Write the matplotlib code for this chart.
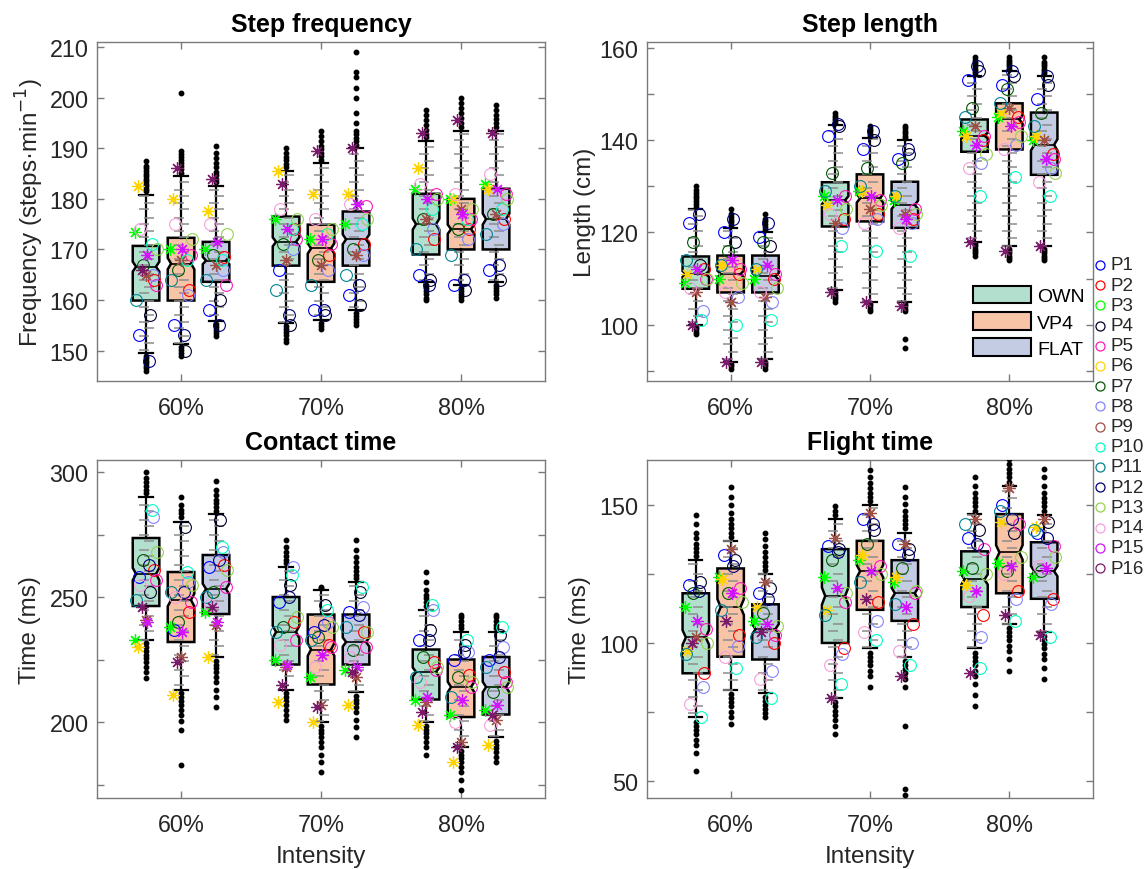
import numpy as np
import matplotlib
matplotlib.use("Agg")
import matplotlib.pyplot as plt
from matplotlib.patches import Polygon, Patch
from matplotlib.lines import Line2D

plt.rcParams['font.family'] = ['Liberation Sans', 'DejaVu Sans']

# -----------------------------
# DATA
# -----------------------------
intensities = ['60%', '70%', '80%']
conditions = ['OWN', 'VP4', 'FLAT']
cond_colors = ['#b3dfcf', '#f8c4a7', '#c4cce4']
participants = ['P%d' % i for i in range(1, 17)]
part_colors = [(0, 0, 1), (1, 0, 0), (0, 1, 0), (0, 0, 0.1724),
               (1, 0.1034, 0.7241), (1, 0.8276, 0), (0, 0.3448, 0),
               (0.5172, 0.5172, 1), (0.6207, 0.3103, 0.2759), (0, 1, 0.7586),
               (0, 0.5172, 0.5862), (0, 0, 0.4828), (0.5862, 0.8276, 0.3103),
               (0.9655, 0.6207, 0.8621), (0.8276, 0.0690, 1), (0.4828, 0.1034, 0.4138)]
star_parts = [2, 5, 8, 14, 15]
n_steps = 300

# box order: 60 OWN, 60 VP4, 60 FLAT, 70 OWN, ... 80 FLAT
# --- step frequency (steps/min)
freq_q1 = [159.9, 159.9, 163.6, 166.8, 163.6, 166.8, 169.0, 170.0, 170.0]
freq_med = [166.6, 167.2, 167.8, 171.5, 170.2, 172.0, 175.0, 174.0, 176.0]
freq_q3 = [170.7, 172.3, 171.5, 176.5, 174.9, 177.5, 181.0, 180.0, 182.0]
freq_lo = [149.5, 151.4, 155.8, 155.5, 156.0, 158.0, 163.5, 163.0, 163.5]
freq_hi = [180.8, 184.6, 182.6, 185.5, 187.0, 190.0, 191.5, 193.5, 193.5]
freq_out_hi = [
    [181.5, 182, 182.5, 183, 183.5, 184, 184.5, 185, 185.5, 186, 186.5, 187.5],
    [185.2, 185.8, 186.4, 187, 187.6, 188.2, 188.8, 189.5, 201],
    [183.3, 184, 184.7, 185.4, 186.2, 187, 188, 189, 190.5],
    [186.2, 186.9, 187.6, 188.3, 189, 190],
    [187.7, 188.4, 189.1, 189.8, 190.5, 191.5, 192.5, 193.5],
    [190.7, 191.4, 192.1, 192.8, 193.5, 195, 197, 200, 202, 204, 205, 209],
    [192.2, 192.9, 193.6, 194.5, 195.5, 196.5, 197.5],
    [194.2, 195, 196, 197, 198, 199, 200],
    [194.2, 195, 195.8, 196.6, 197.5, 198.5]]
freq_out_lo = [
    [149, 148.5, 148, 147.5, 147, 146.5, 146],
    [150.8, 150.2, 149.6, 149],
    [155.2, 154.6, 154, 153.4, 152.8],
    [154.8, 154.2, 153.6, 153, 152.4, 151.8],
    [155.4, 154.8, 154.2],
    [157.4, 156.8, 156.2, 155.6, 155],
    [162.9, 162.3, 161.7, 161.1, 160.5, 160],
    [162.4, 161.8, 161.2, 160.6, 160],
    [162.9, 162.3, 161.7, 161.1, 160.5]]
freq_parts = [
    [153, 164, 173.5, 157, 163, 182.5, 167, 165, 165, 171, 160, 148, 170, 174, 169, 166],
    [155, 162, 170, 150, 169, 180, 166, 161, 168, 168, 164, 153, 172, 175, 170, 186],
    [158, 168.5, 170, 160, 163, 177.5, 169, 166, 167, 168, 164, 155, 173, 175, 171.5, 184],
    [166, 174, 176, 155, 172, 185.5, 171, 170, 168, 174, 162, 157, 176, 178, 174, 183],
    [158, 169, 172, 157, 171, 181, 168, 166, 167, 173, 163, 158, 174, 176, 172, 189.5],
    [161, 171, 175, 159, 178.5, 181, 170, 169, 169, 175, 165, 163, 176, 179, 179, 190],
    [165, 172, 182, 164, 181, 186, 176, 174, 176, 178, 170, 163, 180, 183, 180, 193],
    [163, 174, 180, 162, 176, 180, 174, 172, 178, 176, 169, 164, 178, 181, 177, 195.5],
    [166, 176, 183, 164, 181, 182, 177, 175, 177, 178, 173, 167, 180, 185, 182, 193]]
# recorded (quantised) step-frequency levels
freq_levels = [150.2, 151.6, 152.9, 154.5, 155.7, 157.1, 158.6, 159.8, 161.3, 162.5,
               164.0, 165.2, 166.9, 168.1, 169.5, 170.8, 172.4, 173.6, 175.0, 176.3,
               177.9, 179.1, 180.6, 181.8, 183.4, 184.7, 186.1, 187.4, 188.9, 190.2,
               191.6, 192.9]

# --- step length (cm)
len_q1 = [107.8, 107.0, 107.0, 121.3, 122.4, 121.0, 137.5, 138.0, 132.5]
len_med = [111.0, 111.0, 110.5, 127.0, 127.4, 126.0, 141.0, 144.5, 139.0]
len_q3 = [114.8, 115.0, 115.0, 130.9, 132.6, 131.0, 144.5, 148.0, 146.0]
len_lo = [100.0, 92.0, 92.5, 107.5, 105.0, 105.0, 118.0, 117.0, 117.0]
len_hi = [125.0, 121.0, 120.0, 143.3, 140.4, 140.0, 154.0, 155.0, 154.0]
len_out_hi = [
    [125.6, 126.2, 126.8, 127.4, 128, 128.6, 129.2, 130],
    [121.6, 122.2, 122.8, 123.4, 124, 125],
    [120.6, 121.2, 121.8, 122.4, 123, 124],
    [143.8, 144.3, 144.8, 145.3, 146],
    [140.9, 141.4, 141.9, 142.4, 143],
    [140.5, 141, 141.5, 142, 142.6, 143],
    [154.5, 155, 155.5, 156, 156.5, 157, 157.5, 158],
    [155.5, 156, 156.5, 157, 157.5, 158],
    [154.5, 155, 155.5, 156, 156.5, 157, 158]]
len_out_lo = [
    [99.5, 99, 98.5, 98],
    [91.5, 91, 90.5],
    [92, 91.5, 91, 90.5],
    [107, 106.5, 106, 105.5, 105],
    [104.5, 104, 103.5, 103],
    [104.5, 104, 103.5, 103, 97, 95],
    [117.5, 117, 116.5, 116, 115.5, 115],
    [116.5, 116, 115.5, 115, 114.5, 114],
    [116.5, 116, 115.5, 115, 114.5, 114]]
len_parts = [
    [122, 112, 109, 113, 110, 111, 118, 103, 107, 101, 114, 124, 110, 108, 112, 100],
    [120, 111, 110, 118, 112, 113, 116, 106, 105, 100, 113, 123, 109, 107, 114, 92],
    [119, 110, 110, 117, 111, 112, 118, 105, 106, 101, 112, 122, 108, 107, 113, 92],
    [141, 123, 128, 143, 128, 126, 133, 121, 122, 117, 129, 143.5, 125, 124, 127, 107],
    [138, 124, 129, 140, 127, 129, 134, 123, 125, 116, 130, 142, 126, 122, 128, 105],
    [136, 123, 127, 137, 125, 128, 135, 122, 124, 115, 128, 138, 124, 121, 123, 104],
    [153, 140, 142, 155, 141, 141, 147, 135, 143, 128, 145, 156, 137, 134, 139, 118],
    [152, 145, 145, 154, 144, 146, 151, 139, 147, 132, 148, 155, 141, 138, 143, 116],
    [149, 137, 140, 152, 136, 141, 146, 134, 140, 128, 143, 154, 133, 131, 136, 117]]
len_levels = [92.6, 94.1, 95.9, 97.2, 98.8, 100.5, 101.9, 103.4, 105.1, 106.6, 108.0,
              109.7, 111.2, 112.6, 114.3, 115.8, 117.1, 118.9, 120.4, 121.8, 123.5,
              124.9, 126.3, 128.0, 129.6, 131.0, 132.7, 134.1, 135.6, 137.3, 138.7,
              140.2, 141.9, 143.4, 144.8, 146.5, 147.9, 149.6, 151.0, 152.5, 154.1]

# --- contact time (ms)
ct_q1 = [246.4, 232.0, 243.2, 223.0, 215.0, 223.0, 209.0, 202.0, 203.0]
ct_med = [259.2, 248.8, 253.2, 236.0, 229.0, 232.0, 220.0, 214.0, 214.0]
ct_q3 = [273.6, 260.0, 266.8, 250.0, 243.0, 243.0, 229.0, 225.0, 226.0]
ct_lo = [233.0, 213.0, 226.0, 213.0, 200.0, 212.0, 200.0, 190.0, 194.0]
ct_hi = [290.0, 280.0, 283.2, 262.0, 253.0, 256.0, 245.0, 236.0, 236.0]
ct_out_hi = [
    [291.5, 293, 294.5, 296, 297.5, 300],
    [282, 283.5, 285, 287, 290],
    [284.5, 286, 287.5, 289, 291, 293, 296.5],
    [263.5, 265, 266.5, 268, 270, 273],
    [253.5, 254],
    [257.5, 259, 260.5, 262, 264, 266, 269, 273],
    [246.5, 248, 249.5, 251, 253, 256, 260],
    [237.5, 239, 240.5, 242, 243],
    [237.5, 239, 240.5, 242, 243]]
ct_out_lo = [
    [231.5, 230, 228.5, 227, 225.5, 224, 222, 220, 217.5],
    [211.5, 210, 208.5, 207, 205, 203, 200.5, 197, 183],
    [224.5, 223, 221.5, 220, 218, 216, 213, 210, 206],
    [211.5, 210, 208.5, 207, 205, 203, 201],
    [198.5, 197, 195.5, 194, 192, 190, 187, 184, 180],
    [210.5, 209, 207.5, 206, 204, 201, 198, 194],
    [198.5, 197, 195.5, 194, 192, 190, 187],
    [188.5, 187, 185.5, 184, 182, 180, 177, 173],
    [192.5, 191, 189.5, 188, 186, 184]]
ct_parts = [
    [258, 261, 233, 252, 257, 230, 265, 282, 241, 285, 249, 263, 268, 255, 240, 246],
    [237, 244, 238, 278, 248, 211, 240, 256, 226, 260, 252, 252, 255, 250, 236, 224],
    [262, 263, 244, 281, 254, 226, 252, 268, 239, 270, 250, 265, 261, 247, 240, 246],
    [248, 240, 225, 255, 233, 208, 238, 262, 222, 259, 236, 250, 242, 231, 223, 215],
    [236, 231, 218, 247, 230, 200, 234, 240, 207, 245, 233, 239, 238, 222, 227, 206],
    [244, 236, 221, 252, 230, 207, 229, 246, 218, 254, 238, 243, 236, 226, 222, 220],
    [233, 224, 209, 237, 221, 199, 226, 245, 208, 247, 218, 233, 222, 216, 210, 204],
    [225, 219, 203, 231, 214, 184, 218, 228, 192, 233, 210, 228, 216, 200, 209, 190],
    [225, 220, 205, 235, 216, 191, 212, 230, 201, 238, 222, 226, 214, 199, 207, 203]]
ct_levels = [176, 179, 182.5, 185, 188.5, 191, 194.5, 197, 200.5, 203, 206.5, 209,
             212.5, 215, 218.5, 221, 224.5, 227, 230.5, 233, 236.5, 239, 242.5, 245,
             248.5, 251, 254.5, 257, 260.5, 263, 266.5, 269, 272.5, 275, 278.5, 281,
             284.5, 287, 290.5]

# --- flight time (ms)
ft_q1 = [89.0, 95.0, 94.0, 100.0, 112.0, 108.0, 113.0, 118.0, 116.0]
ft_med = [102.0, 113.0, 105.0, 117.0, 126.0, 118.0, 123.0, 132.8, 126.0]
ft_q3 = [118.0, 127.0, 114.0, 134.0, 137.0, 130.0, 133.2, 146.7, 136.5]
ft_lo = [73.0, 83.0, 82.0, 80.0, 98.0, 95.0, 98.0, 107.0, 104.0]
ft_hi = [130.0, 137.0, 125.0, 145.0, 150.0, 140.0, 146.7, 157.0, 146.4]
ft_out_hi = [
    [131.5, 133, 134.5, 136, 138, 140, 143, 146.5],
    [138.5, 140, 141.5, 143, 145, 147, 150, 153, 156.5],
    [126.5, 128, 129.5, 131, 133, 135, 137.5, 140],
    [146.5, 148, 149.5],
    [151.5, 153, 154.5, 156, 158, 160, 162.5],
    [141.5, 143, 144.5, 146, 148, 150.5, 153, 156.5],
    [148, 149.5, 151, 152.5, 154.5, 157, 160],
    [158.5, 160, 161.5, 163, 165, 166.5],
    [148, 149.5, 151, 152.5, 154.5, 157, 160, 163]]
ft_out_lo = [
    [71.5, 70, 68.5, 67, 65, 63, 60, 53.5],
    [81.5, 80, 78.5, 77, 75, 73, 70.5],
    [80.5, 79, 77.5, 76, 74.5, 73],
    [78.5, 77, 75.5, 74, 72, 70, 67],
    [96.5, 95, 93.5, 92, 90, 88, 84],
    [93.5, 92, 90.5, 89, 87, 84, 70, 47, 45],
    [96.5, 95, 93.5, 92, 90, 88, 85, 81, 77],
    [105.5, 104, 102.5, 101, 99, 97, 94, 90],
    [102.5, 101, 99.5, 98, 96, 94, 91, 87]]
ft_parts = [
    [121, 89, 113, 122, 105, 97, 118, 84, 102, 73, 96, 119, 100, 78, 108, 100],
    [132, 103, 124, 130, 120, 123, 118, 99, 134, 91, 112, 128, 115, 95, 118, 108],
    [118, 100, 108, 120, 103, 113, 111, 90, 122, 80, 102, 116, 106, 87, 107, 104],
    [135, 98, 124, 134, 115, 112, 130, 96, 138, 85, 110, 133, 118, 92, 120, 80],
    [145, 115, 130, 141, 128, 132, 136, 108, 147, 101, 122, 143, 125, 104, 126, 116],
    [136, 107, 122, 134, 118, 124, 127, 100, 136, 92, 114, 132, 119, 97, 113, 88],
    [138, 110, 126, 141, 134, 121, 127, 102, 145, 91, 143, 136, 125, 117, 119, 89],
    [150, 119, 129, 140, 143, 144, 126, 116, 156, 108, 148, 145, 131, 125, 128, 110],
    [140, 116, 124, 144, 135, 142, 126, 114, 145, 102, 141, 138, 131, 128, 127, 103]]
ft_levels = [74.5, 77, 80.5, 83, 86.5, 89, 92.5, 95, 98.5, 101, 104.5, 107, 110.5,
             113, 116.5, 119, 122.5, 125, 128.5, 131, 134.5, 137, 140.5, 143, 146.5,
             149, 152.5, 155, 158.5]

# -----------------------------
# PANEL SETTINGS
# -----------------------------
panels = [
    dict(title='Step frequency', ylabel='Frequency (steps·min$^{-1}$)',
         q1=freq_q1, med=freq_med, q3=freq_q3, lo=freq_lo, hi=freq_hi,
         out_hi=freq_out_hi, out_lo=freq_out_lo, parts=freq_parts, levels=freq_levels,
         ylim=(144, 211), ticks=np.arange(150, 211, 10), labels=np.arange(150, 211, 10),
         rect=[0.0846, 0.5609, 0.3906, 0.3897], lab_x=-0.150),
    dict(title='Step length', ylabel='Length (cm)',
         q1=len_q1, med=len_med, q3=len_q3, lo=len_lo, hi=len_hi,
         out_hi=len_out_hi, out_lo=len_out_lo, parts=len_parts, levels=len_levels,
         ylim=(87.8, 161.3), ticks=np.arange(90, 161, 10), labels=np.arange(100, 161, 20),
         rect=[0.5641, 0.5609, 0.3888, 0.3897], lab_x=-0.139),
    dict(title='Contact time', ylabel='Time (ms)',
         q1=ct_q1, med=ct_med, q3=ct_q3, lo=ct_lo, hi=ct_hi,
         out_hi=ct_out_hi, out_lo=ct_out_lo, parts=ct_parts, levels=ct_levels,
         ylim=(169.6, 304.8), ticks=np.arange(175, 301, 25), labels=[200, 250, 300],
         rect=[0.0846, 0.0816, 0.3906, 0.3885], lab_x=-0.150),
    dict(title='Flight time', ylabel='Time (ms)',
         q1=ft_q1, med=ft_med, q3=ft_q3, lo=ft_lo, hi=ft_hi,
         out_hi=ft_out_hi, out_lo=ft_out_lo, parts=ft_parts, levels=ft_levels,
         ylim=(43.8, 166.3), ticks=np.arange(50, 151, 25), labels=[50, 100, 150],
         rect=[0.5641, 0.0816, 0.3888, 0.3885], lab_x=-0.150),
]

offsets = [-0.25, 0.0, 0.25]
box_w = 0.19
cap_w = 0.047
jitter = [-0.05, 0.06, -0.08, 0.03, 0.07, -0.06, -0.02, 0.05,
          0.0, 0.04, -0.07, 0.02, 0.08, -0.04, 0.01, -0.03]
spine_col = '#7a7a7a'
text_col = '#262626'


def notched_box(ax, x, q1, med, q3, color):
    hw = box_w / 2
    nw = hw * 0.75
    notch = 1.57 * (q3 - q1) / np.sqrt(n_steps)
    lo, hi = med - notch, med + notch
    verts = [(x - hw, q1), (x + hw, q1), (x + hw, lo), (x + nw, med),
             (x + hw, hi), (x + hw, q3), (x - hw, q3), (x - hw, hi),
             (x - nw, med), (x - hw, lo)]
    ax.add_patch(Polygon(verts, closed=True, facecolor=color,
                         edgecolor='black', lw=1.8, zorder=2))
    ax.plot([x - nw, x + nw], [med, med], color='black', lw=1.2, zorder=2)


fig = plt.figure(figsize=(11.47, 8.7), dpi=100)

for k, p in enumerate(panels):
    ax = fig.add_axes(p['rect'])
    for i in range(3):
        for c in range(3):
            b = i * 3 + c
            x = i + 1 + offsets[c]
            notched_box(ax, x, p['q1'][b], p['med'][b], p['q3'][b], cond_colors[c])
            # whiskers and caps
            ax.plot([x, x], [p['q3'][b], p['hi'][b]], color='black', lw=1.6, zorder=2)
            ax.plot([x, x], [p['lo'][b], p['q1'][b]], color='black', lw=1.6, zorder=2)
            for v in (p['lo'][b], p['hi'][b]):
                ax.plot([x - cap_w, x + cap_w], [v, v], color='black', lw=1.6, zorder=2)
            # individual steps at their recorded levels
            lv = [v for v in p['levels'] if p['lo'][b] <= v <= p['hi'][b]]
            lx = [x + (0.018 if n % 2 else -0.018) for n in range(len(lv))]
            ax.plot(lx, lv, ls='none', marker='_', ms=7, mew=1.1,
                    color='#8c8c8c', zorder=2.5)
            # outliers
            outs = p['out_hi'][b] + p['out_lo'][b]
            ax.plot([x] * len(outs), outs, ls='none', marker='o', ms=3.2,
                    color='black', zorder=3)
            # participant means
            for j in range(16):
                xp = x + jitter[j]
                if j in star_parts:
                    ax.plot(xp, p['parts'][b][j], marker=(8, 2, 0), ms=9,
                            mew=0.9, color=part_colors[j], ls='none', zorder=4)
                else:
                    ax.plot(xp, p['parts'][b][j], marker='o', ms=8.5, mew=0.8,
                            mfc='none', mec=part_colors[j], ls='none', zorder=4)

    ax.set_xlim(0.4, 3.6)
    ax.set_ylim(*p['ylim'])
    ax.set_xticks([1, 2, 3])
    ax.set_xticklabels(intensities)
    ax.set_yticks(p['ticks'])
    ax.set_yticklabels([str(t) if t in list(p['labels']) else '' for t in p['ticks']])
    ax.tick_params(direction='in', length=5, width=1, color=spine_col,
                   labelsize=16.8, labelcolor=text_col, top=True, right=True)
    ax.tick_params(axis='x', pad=11)
    ax.tick_params(axis='y', pad=6)
    for s in ax.spines.values():
        s.set_color(spine_col)
        s.set_linewidth(1)
    ax.set_title(p['title'], fontsize=18, fontweight='bold', pad=8)
    ax.set_ylabel(p['ylabel'], fontsize=17.5, color=text_col)
    ax.yaxis.label.set_verticalalignment('center')
    ax.yaxis.set_label_coords(p['lab_x'], 0.5)
    if k >= 2:
        ax.set_xlabel('Intensity', fontsize=17.5, color=text_col, labelpad=6)

    if k == 1:
        handles = [Patch(facecolor=cond_colors[c], edgecolor='black', lw=1.5)
                   for c in range(3)]
        ax.legend(handles, conditions, loc='upper left', bbox_to_anchor=(0.731, 0.28),
                  frameon=False, fontsize=14, handlelength=3.0, handleheight=1.0,
                  labelspacing=0.35, borderpad=0, borderaxespad=0, handletextpad=0.3)

# participant key on the right
for j, name in enumerate(participants):
    y = 1 - (266 + j * 20.2) / 870
    fig.add_artist(Line2D([1100 / 1147], [y], marker='o', ms=6.5, mew=0.9,
                          mfc='none', mec=part_colors[j], ls='none',
                          transform=fig.transFigure))
    fig.text(1110 / 1147, y, name, fontsize=13.5, va='center', ha='left', color=text_col)

fig.savefig('out.png', dpi=100)
